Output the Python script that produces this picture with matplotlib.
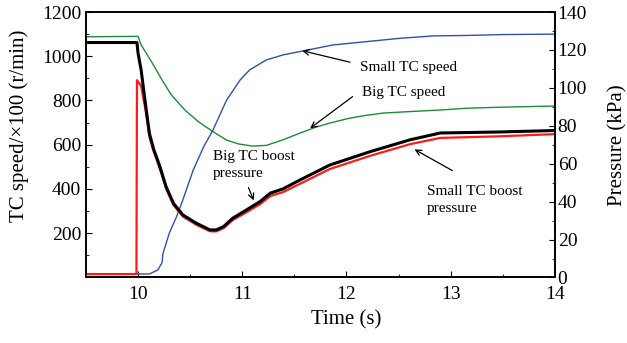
import matplotlib.pyplot as plt
from matplotlib.ticker import MultipleLocator

# Turbocharger speeds (left axis, r/min / 100) vs time (s)
t_small_speed = [9.5, 10.11, 10.19, 10.23, 10.24, 10.30, 10.37, 10.43, 10.53, 10.63, 10.72, 10.85,
                 10.98, 11.07, 11.23, 11.39, 11.55, 11.87, 12.19, 12.51, 12.83, 13.15, 13.5, 14.0]
small_speed = [16, 16, 34, 66, 109, 200, 275, 350, 486, 591, 667, 802,
               893, 938, 983, 1006, 1021, 1051, 1066, 1081, 1092, 1094, 1098, 1100]

t_big_speed = [9.5, 10.0, 10.03, 10.13, 10.23, 10.32, 10.45, 10.58, 10.72, 10.85, 10.97, 11.1,
               11.23, 11.39, 11.55, 11.71, 11.84, 12.03, 12.19, 12.35, 12.61, 12.9, 13.15, 13.5, 14.0]
big_speed = [1088, 1090, 1051, 975, 893, 825, 757, 704, 659, 621, 603, 594,
             597, 622, 652, 680, 698, 720, 733, 743, 750, 757, 765, 770, 775]

# Boost pressures (right axis, kPa)
t_big_boost = [9.5, 9.99, 10.0, 10.03, 10.07, 10.11, 10.15, 10.21, 10.27, 10.34, 10.43, 10.56, 10.69,
               10.75, 10.82, 10.91, 11.04, 11.17, 11.27, 11.39, 11.55, 11.84, 12.23, 12.61, 12.9, 13.44, 14.0]
big_boost = [123.9, 123.9, 118.4, 109.4, 92.1, 75.8, 67.7, 58.5, 47.8, 39.1, 33.0, 28.6, 25.1,
             25.1, 26.8, 31.3, 35.6, 40.0, 44.5, 46.7, 51.3, 59.3, 66.4, 72.6, 76.2, 76.7, 77.5]

t_small_boost = [9.5, 9.985, 9.99, 10.03, 10.07, 10.11, 10.15, 10.21, 10.27, 10.34, 10.43, 10.56, 10.69,
                 10.75, 10.82, 10.91, 11.04, 11.17, 11.27, 11.39, 11.55, 11.84, 12.23, 12.61, 12.9, 13.44, 14.0]
small_boost = [1.8, 1.8, 104.0, 101.0, 89.0, 74.0, 66.5, 57.3, 46.8, 38.2, 32.2, 27.8, 24.4,
               24.3, 26.0, 30.3, 34.4, 38.6, 43.0, 45.0, 49.3, 57.2, 64.2, 70.3, 73.6, 74.4, 75.6]

plt.rcParams['font.family'] = ['Liberation Serif', 'DejaVu Serif']

fig = plt.figure(figsize=(6.27, 3.43), dpi=100)
ax = fig.add_axes([0.137, 0.191, 0.748, 0.774])
ax2 = ax.twinx()

ax.plot(t_big_speed, big_speed, color='#1f8a3a', lw=1.0)
ax.plot(t_small_speed, small_speed, color='#3050b0', lw=1.0)
ax2.plot(t_small_boost, small_boost, color='#ff1a1a', lw=1.6)
ax2.plot(t_big_boost, big_boost, color='black', lw=2.2)

ax.set_xlim(9.5, 14)
ax.set_ylim(0, 1200)
ax2.set_ylim(0, 140)
ax.xaxis.set_major_locator(MultipleLocator(1))
ax.xaxis.set_minor_locator(MultipleLocator(0.5))
ax.yaxis.set_minor_locator(MultipleLocator(100))
ax.set_yticks([200, 400, 600, 800, 1000, 1200])
ax2.yaxis.set_major_locator(MultipleLocator(20))
ax2.yaxis.set_minor_locator(MultipleLocator(10))

for a in (ax, ax2):
    a.tick_params(which='both', direction='in', labelsize=14)
    a.tick_params(which='major', length=4)
    a.tick_params(which='minor', length=2.5)
    for s in a.spines.values():
        s.set_linewidth(1.2)
ax.tick_params(axis='x', pad=6)
ax2.tick_params(axis='y', pad=2)

ax.set_xlabel('Time (s)', fontsize=15)
ax.set_ylabel('TC speed/×100 (r/min)', fontsize=15)
ax2.set_ylabel('Pressure (kPa)', fontsize=15)
ax.xaxis.set_label_coords(0.556, -0.122)
ax.yaxis.set_label_coords(-0.122, 0.57)
ax2.yaxis.set_label_coords(1.113, 0.5)

arrow = dict(arrowstyle='->', color='black', lw=0.9)
ax.annotate('', xy=(11.55, 1028), xytext=(12.06, 970), arrowprops=arrow)
ax.text(12.13, 951, 'Small TC speed', fontsize=11, va='center')
ax.annotate('', xy=(11.63, 667), xytext=(12.08, 825), arrowprops=arrow)
ax.text(12.15, 838, 'Big TC speed', fontsize=11, va='center')
ax.annotate('', xy=(11.12, 337), xytext=(11.05, 418), arrowprops=arrow)
ax.text(10.72, 508, 'Big TC boost\npressure', fontsize=11, va='center', linespacing=1.45)
ax.annotate('', xy=(12.63, 585), xytext=(13.04, 477), arrowprops=arrow)
ax.text(12.77, 350, 'Small TC boost\npressure', fontsize=11, va='center', linespacing=1.45)

fig.savefig('out.png', dpi=100)
